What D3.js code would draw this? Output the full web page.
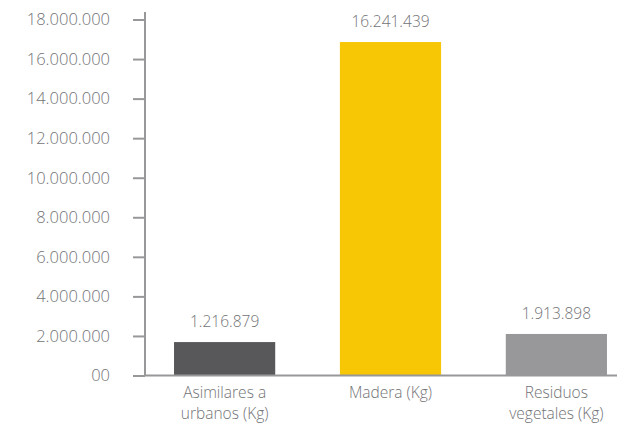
<!DOCTYPE html>
<html lang="es">
<head>
  <meta charset="UTF-8">
  <title>Residuos</title>
  <script src="https://cdn.jsdelivr.net/npm/d3@7/dist/d3.min.js"></script>
  <style>
    body { margin: 0; background: #fff; }
    text { font-family: "Open Sans", sans-serif; font-weight: 300; fill: #727376; }
  </style>
</head>
<body>
  <div id="chart"></div>
  <script>
    // datos
    const categories = [['Asimilares a', 'urbanos (Kg)'], ['Madera (Kg)'], ['Residuos', 'vegetales (Kg)']];
    const shownValues = [1216879, 16241439, 1913898];   // etiquetas sobre las barras
    const barValues = [1690000, 16860000, 2100000];     // altura dibujada de cada barra
    const barColors = ['#58585a', '#f7c605', '#98989b'];
    const yTicks = [0, 2000000, 4000000, 6000000, 8000000, 10000000, 12000000, 14000000, 16000000, 18000000];

    const width = 617, height = 423;
    const locale = d3.formatLocale({ decimal: ',', thousands: '.', grouping: [3], currency: ['', '€'] });
    const fmt = locale.format(',d');

    const svg = d3.select('#chart').append('svg')
      .attr('width', width)
      .attr('height', height);

    const x = d3.scaleBand()
      .domain(d3.range(categories.length))
      .range([145, 636])
      .paddingInner(0.39)
      .paddingOuter(0.175);

    const y = d3.scaleLinear()
      .domain([0, 18000000])
      .range([375.5, 19.5]);

    // eje y
    const yAxis = svg.append('g')
      .attr('transform', 'translate(145,0)')
      .call(d3.axisLeft(y).tickValues(yTicks).tickSize(12).tickSizeOuter(0)
        .tickFormat(d => d === 0 ? '00' : fmt(d)));
    yAxis.select('.domain').attr('stroke', '#98989b').attr('stroke-width', 2)
      .attr('d', 'M0,12V375.5');
    yAxis.selectAll('.tick line').attr('stroke', '#98989b').attr('stroke-width', 2);
    yAxis.selectAll('.tick text')
      .attr('x', -35)
      .attr('font-size', 16.5)
      .attr('fill', '#727376')
      .style('font-family', '"Open Sans", sans-serif')
      .style('font-weight', 300);

    // barras
    svg.append('g').selectAll('rect')
      .data(barValues)
      .enter()
      .append('rect')
      .attr('x', (d, i) => x(i))
      .attr('y', d => y(d))
      .attr('width', x.bandwidth())
      .attr('height', d => y(0) - y(d))
      .attr('fill', (d, i) => barColors[i]);

    // etiquetas de valor
    svg.append('g').selectAll('text')
      .data(barValues)
      .enter()
      .append('text')
      .attr('x', (d, i) => x(i) + x.bandwidth() / 2)
      .attr('y', d => y(d) - 15)
      .attr('text-anchor', 'middle')
      .attr('font-size', 15.5)
      .text((d, i) => fmt(shownValues[i]));

    // eje x
    svg.append('line')
      .attr('x1', 144).attr('x2', width)
      .attr('y1', y(0)).attr('y2', y(0))
      .attr('stroke', '#98989b')
      .attr('stroke-width', 2);

    const xLabels = svg.append('g').selectAll('text')
      .data(categories)
      .enter()
      .append('text')
      .attr('x', (d, i) => x(i) + x.bandwidth() / 2)
      .attr('y', 398)
      .attr('text-anchor', 'middle')
      .attr('font-size', 15.5);
    xLabels.selectAll('tspan')
      .data(d => d)
      .enter()
      .append('tspan')
      .attr('x', function () { return this.parentNode.getAttribute('x'); })
      .attr('dy', (d, i) => i === 0 ? 0 : 21)
      .text(d => d);
  </script>
</body>
</html>
